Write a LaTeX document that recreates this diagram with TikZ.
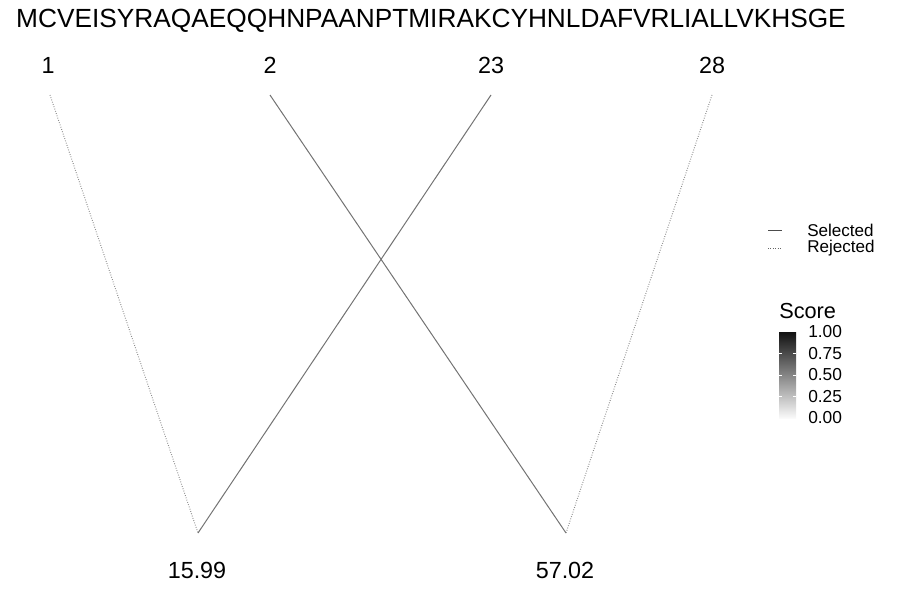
\documentclass[tikz,border=0pt]{standalone}
\usepackage{fontspec}
\setmainfont{Liberation Sans}
\begin{document}
\begin{tikzpicture}[x=0.75pt,y=-0.75pt,
  lbl/.style={inner sep=0pt,font=\fontsize{17.5}{20}\selectfont},
  sel/.style={draw=black!55,line width=0.75pt},
  rej/.style={draw=black!45,line width=0.75pt,dash pattern=on 0.6pt off 1.2pt},
  legtxt/.style={inner sep=0pt,anchor=west,font=\fontsize{12.8}{14}\selectfont},
  ticktxt/.style={inner sep=0pt,anchor=west,font=\fontsize{13}{15}\selectfont}]
\useasboundingbox (0,0) rectangle (900,600);
\node[inner sep=0pt,font=\fontsize{19.7}{23}\selectfont] (title) at (431,21) {MCVEISYRAQAEQQHNPAANPTMIRAKCYHNLDAFVRLIALLVKHSGE};
\node[lbl] (l1) at (48,65) {1};
\node[lbl] (l2) at (270,65) {2};
\node[lbl] (l23) at (491,65) {23};
\node[lbl] (l28) at (712,65) {28};
\node[lbl] (b1) at (197,570) {15.99};
\node[lbl] (b2) at (565,570) {57.02};
\coordinate (t1) at (50,95);
\coordinate (t2) at (270,95);
\coordinate (t23) at (491,95);
\coordinate (t28) at (712,95);
\coordinate (p1) at (198,533);
\coordinate (p2) at (566,533);
\draw[rej] (t1) -- (p1);
\draw[sel] (t2) -- (p2);
\draw[sel] (t23) -- (p1);
\draw[rej] (t28) -- (p2);
% legend
\coordinate (ls1) at (768,230.5);
\coordinate (ls2) at (782,230.5);
\coordinate (lr1) at (768,248);
\coordinate (lr2) at (782,248);
\draw[sel,draw=black!70] (ls1) -- (ls2);
\draw[rej,draw=black!60] (lr1) -- (lr2);
\node[legtxt] (selt) at (807,230.5) {Selected};
\node[legtxt] (rejt) at (807,248.5) {Rejected};
\node[inner sep=0pt,anchor=west,font=\fontsize{16.3}{19}\selectfont] (score) at (779,311) {Score};
\shade[top color=black!93,bottom color=black!2] (779,332) rectangle (796,418);
\foreach \yy in {353.5,375,396.5} {
  \draw[white,line width=0.5pt] (779,\yy) -- (782,\yy);
  \draw[white,line width=0.5pt] (793,\yy) -- (796,\yy);
}
\node[ticktxt] (k1) at (808,332) {1.00};
\node[ticktxt] (k2) at (808,353.5) {0.75};
\node[ticktxt] (k3) at (808,375) {0.50};
\node[ticktxt] (k4) at (808,396.5) {0.25};
\node[ticktxt] (k5) at (808,418) {0.00};
\end{tikzpicture}
\end{document}
